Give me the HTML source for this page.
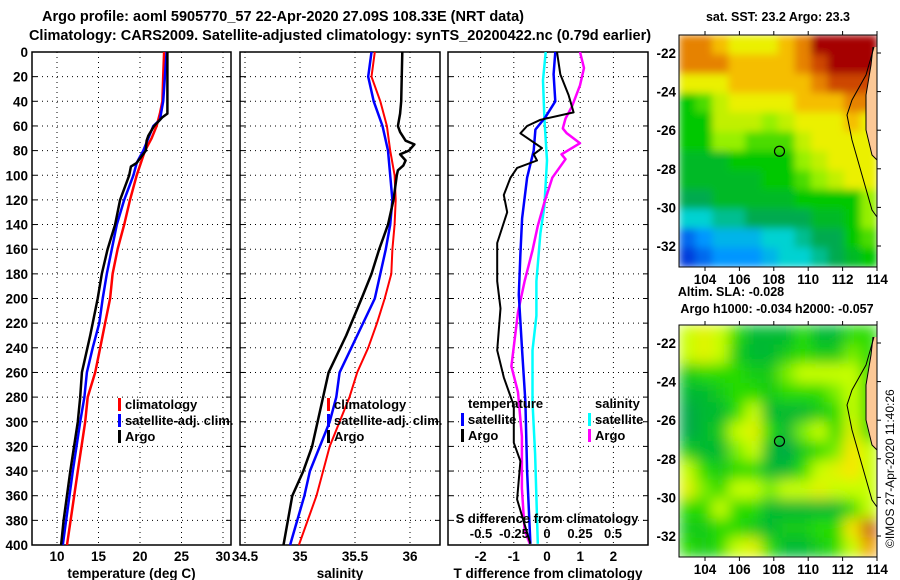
<!DOCTYPE html>
<html><head><meta charset="utf-8"><style>
body{margin:0;background:#fff;}
svg{display:block;font-family:"Liberation Sans",Arial,sans-serif;font-weight:bold;}
</style></head><body>
<svg id="c" width="900" height="580" viewBox="0 0 900 580" xmlns="http://www.w3.org/2000/svg">
<defs>
<filter id="blur1" x="0" y="0" width="1" height="1"><feGaussianBlur stdDeviation="4" edgeMode="duplicate"/></filter>
<filter id="blur2" x="0" y="0" width="1" height="1"><feGaussianBlur stdDeviation="7" edgeMode="duplicate"/></filter>
<clipPath id="clip1"><rect x="679" y="35" width="198" height="232"/></clipPath>
<clipPath id="clip2"><rect x="679" y="325" width="198" height="232"/></clipPath>
</defs>
<text x="283" y="21" font-size="14.5" text-anchor="middle">Argo profile: aoml 5905770_57 22-Apr-2020 27.09S 108.33E (NRT data)</text>
<text x="340" y="40" font-size="14.5" text-anchor="middle">Climatology: CARS2009. Satellite-adjusted climatology: synTS_20200422.nc (0.79d earlier)</text>
<g id="p1"></g>
<g id="p2"></g>
<g id="p3"></g>
<g id="m1"></g>
<g id="m2"></g>
<text x="778" y="21" font-size="12.5" text-anchor="middle">sat. SST: 23.2 Argo: 23.3</text>
<text x="731" y="296" font-size="12.5" text-anchor="middle">Altim. SLA: -0.028</text>
<text x="777" y="313" font-size="12.5" text-anchor="middle">Argo h1000: -0.034 h2000: -0.057</text>
<text transform="translate(894,548) rotate(-90)" font-size="12" font-weight="normal">©IMOS 27-Apr-2020 11:40:26</text>
</svg>
<script>
// ---- data ----
const depthTicks=[0,20,40,60,80,100,120,140,160,180,200,220,240,260,280,300,320,340,360,380,400];
const tTicks=[10,15,20,25,30];
const sTicks=[34.5,35,35.5,36];
const tdTicks=[-2,-1,0,1,2];
const sdTicks=[-0.5,-0.25,0,0.25,0.5];
const tClimD=[0,20,40,50,60,70,80,100,120,140,160,180,200,220,240,260,280,300,340,400];
const tClimV=[22.9,22.8,22.7,22.4,22.0,21.4,20.6,19.6,18.8,18.1,17.3,16.7,16.4,15.8,15.2,14.6,13.7,13.4,12.5,11.2];
const tSatD=[0,40,55,60,70,80,90,100,120,140,160,180,200,220,240,260,280,300,340,400];
const tSatV=[23.2,22.8,22.4,21.6,21.0,20.4,19.6,19.2,18.1,17.2,16.6,16.0,15.5,15.1,14.3,13.6,13.3,12.8,11.9,10.7];
const tArgD=[0,50,53,60,68,72,80,90,93,100,120,130,140,160,180,200,230,260,280,300,340,380,400];
const tArgV=[23.3,23.3,22.7,21.7,21.0,20.8,20.7,19.6,18.9,18.7,17.6,17.3,17.0,16.1,15.4,14.9,14.0,13.0,12.8,12.5,11.6,10.8,10.5];
const sClimD=[0,20,40,60,80,100,120,140,160,180,200,220,240,260,280,320,360,400];
const sClimV=[35.68,35.65,35.73,35.79,35.82,35.86,35.87,35.86,35.84,35.83,35.77,35.70,35.62,35.52,35.45,35.27,35.15,34.99];
const sSatD=[0,20,40,60,80,100,120,140,160,180,200,230,260,280,300,340,360,400];
const sSatV=[35.65,35.62,35.67,35.75,35.80,35.82,35.84,35.82,35.78,35.73,35.68,35.52,35.36,35.33,35.27,35.09,35.04,34.91];
const sArgD=[0,40,50,60,65,72,75,80,83,88,92,96,100,120,140,150,160,180,200,230,260,280,300,320,340,360,380,400];
const sArgV=[35.93,35.92,35.91,35.89,35.91,35.96,36.04,35.99,35.91,35.96,35.94,35.89,35.88,35.85,35.80,35.76,35.72,35.65,35.56,35.42,35.26,35.21,35.16,35.11,35.03,34.93,34.89,34.85];
const dtArgD=[0,18,35,49,55,60,66,78,83,88,94,102,116,130,155,186,208,242,264,287,317,332,363,399];
const dtArgV=[0.3,0.4,0.65,0.8,-0.2,-0.6,-0.8,-0.15,-0.4,-0.3,-0.9,-1.1,-1.3,-1.2,-1.5,-1.5,-1.4,-1.5,-1.3,-1.0,-1.0,-0.8,-0.9,-0.5];
const dtSatD=[0,18,40,53,63,80,102,135,164,197,242,284,340,399];
const dtSatV=[0.25,0.2,0.25,-0.05,-0.35,-0.4,-0.6,-0.75,-0.8,-0.85,-0.75,-0.65,-0.6,-0.5];
const dsSatD=[0,23,54,88,125,147,186,214,242,284,326,399];
const dsSatV=[-0.01,-0.03,-0.02,0,-0.02,-0.05,-0.08,-0.08,-0.11,-0.11,-0.09,-0.07];
const dsArgD=[0,13,27,44,54,62,66,74,83,87,102,122,141,161,186,211,255,276,312,354,388,399];
const dsArgV=[0.25,0.28,0.25,0.19,0.14,0.12,0.15,0.25,0.11,0.14,0.04,-0.02,-0.07,-0.11,-0.17,-0.22,-0.27,-0.22,-0.19,-0.19,-0.17,-0.13];
const lonTicks=[104,106,108,110,112,114];
const latTicks=[-22,-24,-26,-28,-30,-32];
const argoLon=108.33, argoLat=-27.09;
const sstGrid=[
[8,8,7.5,7,7,7,7.5,8,9,9,9,9],
[8,8,8,7.5,7.5,7.5,7.5,8,8.5,9,9,9],
[7,7,7,7.5,7.5,7.5,7.5,7.5,8,8.5,8.5,8.5],
[5,5.5,6.5,7,7,7,7,7.5,7.5,7.5,8,8],
[5,5,6.5,6.5,6.5,6,6.5,7,7,7,7.5,7],
[5,5,6,6,5.5,5.5,5.5,6.5,7,7,7,7],
[4.5,4.5,4.5,5,5,5,5,6,6.5,7,7,7],
[4.5,4.5,4.5,4.5,4.5,5,5,5.5,6,6.5,7,7],
[4,4,4.5,4.5,4.5,4.5,4.5,5,5,5,5,6],
[3,3,3.5,3.5,4,4,4,4,4.5,4.5,5,6],
[1.5,2,2.5,2.5,2.5,3,3,3.5,4,4,5,5.5],
[1,1.5,2,2,2,2.5,3,3,3.5,4,4.5,5]];
const slaGrid=[
[3,3.5,3,2,1,1,1,2,1,1,2,2],
[3,3.5,3,1.5,1,1,1.5,2,1.5,1.5,2.5,2],
[1.5,2,2,2,1.5,1.5,2.5,3,3,3,3,2],
[1,1,1.5,2,2,1.5,2,2,2,2.5,3,2],
[0.5,1,1,2,3,1,1,1,1.5,2,3,2],
[0.5,1,1.5,3,3.5,2,1,2.5,3,2,3.5,2],
[1.5,1,1,2.5,3,1,0.5,1.5,2,2.5,4,3],
[3,2,1.5,2,2,1,1,2,3,3.5,4,3],
[3.5,2.5,2,3,3,2.5,3,3,3.5,3,3,3],
[2,2,3,2,2,1,1,1,1,1,2,3],
[1.5,1.5,2,2,1.5,1,1.5,1.5,2,2,4,6],
[2,1.5,2,3,3.5,2,1,1,1.5,2,3,5]];

const NS='http://www.w3.org/2000/svg';
function mk(parent,tag,attrs,name,text){const e=document.createElementNS(NS,tag);for(const k in attrs)e.setAttribute(k,attrs[k]);


if(text!==undefined)e.textContent=text;parent.appendChild(e);return e;}
const Y0=52,Y1=545;
const yD=d=>Y0+(Y1-Y0)*d/400;

function panel(g,x0,x1,xs,xticks,xlab,xfmt,ylabels,title){
  for(const d of depthTicks){
    const y=yD(d);
    if(d>0&&d<400)mk(g,'line',{x1:x0,x2:x1,y1:y,y2:y,stroke:'#000','stroke-width':1,'stroke-dasharray':'1,4'},'grid-h');
    mk(g,'line',{x1:x0,x2:x0+5,y1:y,y2:y,stroke:'#000'},'tick-y');
    mk(g,'line',{x1:x1-5,x2:x1,y1:y,y2:y,stroke:'#000'},'tick-y');
    if(ylabels)mk(g,'text',{x:28,y:y+5,'font-size':13.5,'text-anchor':'end'},'y-tick-label',String(d));
  }
  for(const t of xticks){const x=xs(t);
    mk(g,'line',{x1:x,x2:x,y1:Y0,y2:Y1,stroke:'#000','stroke-width':1,'stroke-dasharray':'1,4'},'grid-v');
    if(xlab)mk(g,'text',{x:x,y:561,'font-size':13.5,'text-anchor':'middle'},'x-tick-label',xfmt(t));
  }
  mk(g,'rect',{x:x0,y:Y0,width:x1-x0,height:Y1-Y0,fill:'none',stroke:'#000','stroke-width':1.5},'panel-frame');
  mk(g,'text',{x:(x0+x1)/2,y:578,'font-size':13.5,'text-anchor':'middle'},'x-axis-title',title);
}
function line(g,xs,D,V,col,w,name){
  const p=D.map((d,i)=>xs(V[i]).toFixed(1)+','+yD(d).toFixed(1)).join(' ');
  mk(g,'polyline',{points:p,fill:'none',stroke:col,'stroke-width':w,'stroke-linejoin':'round'},name);
}
function legend(g,x,y,items){
  items.forEach((it,i)=>{const yy=y+i*16;
    if(it[1])mk(g,'rect',{x:x,y:yy-11,width:3,height:13,fill:it[1]},'legend-swatch');
    mk(g,'text',{x:x+7,y:yy,'font-size':13},'legend-entry',it[0]);});
}
const p1=document.getElementById('p1');
const xT=t=>57+(t-10)*8.3;
panel(p1,32,231,xT,tTicks,true,String,true,'temperature (deg C)');
line(p1,xT,tClimD,tClimV,'#f00',2.5,'temp-climatology-line');
line(p1,xT,tSatD,tSatV,'#00f',2.5,'temp-satellite-line');
line(p1,xT,tArgD,tArgV,'#000',2.5,'temp-argo-line');
legend(p1,118,409,[['climatology','#f00'],['satellite-adj. clim.','#00f'],['Argo','#000']]);
const p2=document.getElementById('p2');
const xS=s=>245+(s-34.5)*110;
panel(p2,240,440,xS,sTicks,true,String,false,'salinity');
line(p2,xS,sClimD,sClimV,'#f00',2,'sal-climatology-line');
line(p2,xS,sSatD,sSatV,'#00f',2.5,'sal-satellite-line');
line(p2,xS,sArgD,sArgV,'#000',2.5,'sal-argo-line');
legend(p2,327,409,[['climatology','#f00'],['satellite-adj. clim.','#00f'],['Argo','#000']]);
const p3=document.getElementById('p3');
const xDT=t=>547+t*33.2, xDS=s=>547+s*132;
panel(p3,448,648,xDT,tdTicks,true,String,false,'T difference from climatology');
line(p3,xDS,dsSatD,dsSatV,'#0ff',2.5,'sdiff-satellite-line');
line(p3,xDS,dsArgD,dsArgV,'#f0f',2.5,'sdiff-argo-line');
line(p3,xDT,dtSatD,dtSatV,'#00f',2.5,'tdiff-satellite-line');
line(p3,xDT,dtArgD,dtArgV,'#000',2,'tdiff-argo-line');
legend(p3,461,408,[['temperature',null],['satellite','#00f'],['Argo','#000']]);
legend(p3,588,408,[['salinity',null],['satellite','#0ff'],['Argo','#f0f']]);
mk(p3,'text',{x:547,y:523,'font-size':13,'text-anchor':'middle'},'s-axis-title','S difference from climatology');
for(const s of sdTicks)mk(p3,'text',{x:xDS(s),y:538,'font-size':13,'text-anchor':'middle'},'s-tick-label',String(s));

const sstStops=[[0,[0,0,140]],[1,[0,60,220]],[2,[0,150,255]],[3,[0,210,210]],[4,[0,170,80]],[5,[0,200,0]],[6,[150,240,0]],[7,[235,240,0]],[7.5,[245,190,0]],[8,[230,130,0]],[8.5,[205,70,0]],[9,[165,0,0]]];
const slaStops=[[0,[0,150,90]],[1,[0,185,50]],[2,[40,220,0]],[3,[200,255,0]],[4,[250,230,0]],[5,[240,160,0]],[6,[200,90,10]]];
function cmap(stops,v){for(let i=1;i<stops.length;i++){if(v<=stops[i][0]){const a=stops[i-1],b=stops[i],f=(v-a[0])/(b[0]-a[0]);
return 'rgb('+a[1].map((c,k)=>Math.round(c+(b[1][k]-c)*f)).join(',')+')';}}return 'rgb('+stops[stops.length-1][1].join(',')+')';}
function map(id,yoff,grid,stops,blurId,clipId){
  const g=document.getElementById(id);
  const mx0=679,mx1=877,my0=35+yoff,my1=267+yoff;
  const lonX=l=>705+(l-104)*17.2, latY=l=>53+yoff+(-22-l)*19.3;
  const nr=grid.length,nc=grid[0].length;
  const cw=(mx1-mx0)/nc, ch=(my1-my0)/nr;
  const cg=mk(g,'g',{'clip-path':'url(#'+clipId+')'},'map-field');
  const bg=mk(cg,'g',{filter:'url(#'+blurId+')'},'map-cells');
  grid.forEach((row,r)=>row.forEach((v,c)=>{
    mk(bg,'rect',{x:(mx0+c*cw).toFixed(2),y:(my0+r*ch).toFixed(2),width:(cw+0.6).toFixed(2),height:(ch+0.6).toFixed(2),fill:cmap(stops,v)},'map-cell');
  }));
  mk(g,'path',{d:`M${mx1} ${my0+12} L873 ${my0+12} L871 ${my0+30} L866 ${my0+60} L866 ${my0+95} L872 ${my0+120} L${mx1} ${my0+125} Z`,fill:'#fcc896'},'land');
  mk(g,'path',{d:`M874 ${my0+12} L866 ${my0+40} L852 ${my0+65} L847 ${my0+80} L852 ${my0+105} L862 ${my0+140} L872 ${my0+175} L${mx1} ${my0+182}`,fill:'none',stroke:'#000','stroke-width':1},'isobath');
  mk(g,'path',{d:`M873 ${my0+12} L871 ${my0+30} L866 ${my0+60} L866 ${my0+95} L872 ${my0+120} L${mx1} ${my0+125}`,fill:'none',stroke:'#000','stroke-width':1},'coastline');
  mk(g,'rect',{x:mx0,y:my0,width:mx1-mx0,height:my1-my0,fill:'none',stroke:'#000','stroke-width':1},'map-frame');
  for(const l of lonTicks){const x=lonX(l);
    mk(g,'line',{x1:x,x2:x,y1:my0-4,y2:my0,stroke:'#000'},'lon-tick');
    mk(g,'line',{x1:x,x2:x,y1:my1,y2:my1+4,stroke:'#000'},'lon-tick');
    mk(g,'text',{x:x,y:my1+17,'font-size':13.5,'text-anchor':'middle'},'lon-label',String(l));}
  for(const l of latTicks){const y=latY(l);
    mk(g,'line',{x1:mx1,x2:mx1+4,y1:y,y2:y,stroke:'#000'},'lat-tick');
    mk(g,'text',{x:676,y:y+5,'font-size':13.5,'text-anchor':'end'},'lat-label',String(l));}
  mk(g,'circle',{cx:lonX(argoLon),cy:latY(argoLat),r:5,fill:'none',stroke:'#000','stroke-width':1.2},'argo-location');
}
map('m1',0,sstGrid,sstStops,'blur1','clip1');
map('m2',290,slaGrid,slaStops,'blur2','clip2');
</script>
</body></html>
